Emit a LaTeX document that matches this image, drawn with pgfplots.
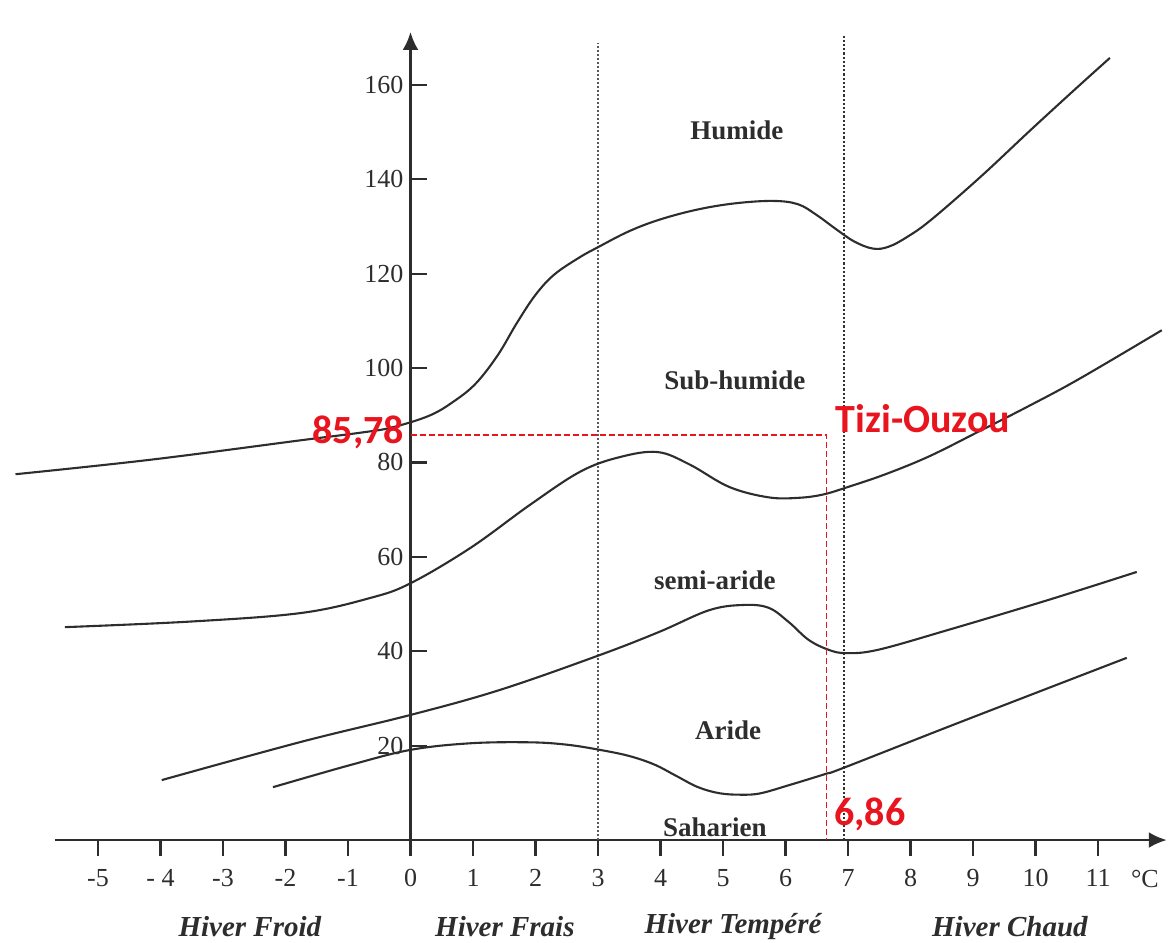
\documentclass[border=0pt]{standalone}
\usepackage{fontspec}
\setmainfont{Liberation Serif}
\newfontfamily\redfont{Carlito}
\usepackage{pgfplots}
\pgfplotsset{compat=1.18}
\usetikzlibrary{arrows.meta}
\definecolor{ink}{RGB}{45,45,45}
\definecolor{redlab}{RGB}{232,20,30}
\begin{document}
\begin{tikzpicture}
\begin{axis}[
  x=31.25pt, y=2.36pt,
  xmin=-5.69, xmax=12.10, ymin=0, ymax=171.2,
  enlargelimits=false,
  axis lines=middle,
  clip=false,
  axis line style={ink, line width=1.3pt},
  every inner x axis line/.append style={-{Latex[length=9pt,width=8pt]}},
  every inner y axis line/.append style={-{Latex[length=9pt,width=8pt]}},
  hide obscured x ticks=false,
  hide obscured y ticks=false,
  xtick={-5,-4,-3,-2,-1,0,1,2,3,4,5,6,7,8,9,10,11},
  xticklabels={-5,- 4,-3,-2,-1,0,1,2,3,4,5,6,7,8,9,10,11},
  ytick={20,40,60,80,100,120,140,160},
  xtick align=outside,
  ytick align=inside,
  major tick length=8pt,
  tick style={ink, line width=1.1pt},
  /pgf/number format/assume math mode=true,
  ticklabel style={font=\fontsize{13}{13}\selectfont, text=ink},
  xticklabel style={anchor=north, yshift=-3pt},
  yticklabel style={anchor=east},
]
% bounding box corners
\coordinate (bbsw) at (axis cs:-6.568,-21.61);
\coordinate (bbne) at (axis cs:12.152,177.97);

% winter-type boundaries
\addplot[gray!70!black, densely dotted, line width=1pt] coordinates {(3,0) (3,168.9)};
\addplot[gray!40!black, densely dotted, line width=1.1pt] coordinates {(6.93,0) (6.93,170.4)};

% Humide / Sub-humide
\addplot[ink, line width=1.05pt, smooth, tension=0.6] coordinates {
(-6.32,77.5) (-4.14,80.6) (-1.75,84.7) (-0.8,86.3) (-0.3,87.4) (0.3,89.9) (0.7,93) (1.05,96.8) (1.4,102.8) (1.7,109.5) (2.0,115.5) (2.3,119.8) (2.7,123.4) (3.0,125.6) (3.5,129) (4,131.5) (4.6,133.6) (5.2,134.9) (5.8,135.4) (6.2,134.7) (6.5,132.4) (6.8,129.5) (7.1,126.8) (7.4,125.3) (7.65,125.7) (7.95,127.8) (8.33,131.4) (9.12,140.5) (9.92,150.4) (10.62,158.9) (11.19,165.7)};
% Sub-humide / semi-aride
\addplot[ink, line width=1.05pt, smooth, tension=0.6] coordinates {
(-5.53,45.1) (-3.5,46.3) (-1.75,48.1) (-0.64,51.3) (0,54.4) (0.96,61.9) (1.91,71) (2.71,78) (3.34,81.1) (3.95,82.2) (4.46,79.6) (5.1,74.8) (5.73,72.6) (6.21,72.5) (6.6,73.2) (7.0,74.8) (7.6,77.5) (8.3,81.3) (9.1,86.6) (9.9,92) (10.7,97.7) (12.02,108)};
% semi-aride / aride
\addplot[ink, line width=1.05pt, smooth, tension=0.6] coordinates {
(-3.98,12.7) (-1.75,20.8) (0,26.5) (1.43,31.8) (3.03,39.2) (3.98,44.1) (4.78,48.7) (5.33,49.8) (5.73,49.2) (6.05,46.2) (6.37,42.4) (6.69,40.3) (6.97,39.6) (7.48,40.3) (8.6,44.5) (10.19,50.8) (11.62,56.8)};
% aride / saharien
\addplot[ink, line width=1.05pt, smooth, tension=0.6] coordinates {
(-2.2,11.2) (-0.96,15.9) (0,19.1) (0.96,20.5) (1.91,20.7) (2.5,20.2) (3.03,19.1) (3.5,17.8) (3.9,16.0) (4.25,13.6) (4.6,11.2) (4.95,9.9) (5.3,9.6) (5.6,9.9) (6.05,11.6) (6.64,14) (6.93,15.3) (8.76,24.8) (11.46,38.6)};

% Tizi-Ouzou position
\addplot[redlab, line width=0.7pt, dash pattern=on 3pt off 1.5pt] coordinates {(0,85.78) (6.66,85.78) (6.66,0)};

% zone labels
\node[font=\fontsize{13.5}{13.5}\selectfont\bfseries, text=ink] at (axis cs:5.22,150.4) {Humide};
\node[font=\fontsize{13.5}{13.5}\selectfont\bfseries, text=ink] at (axis cs:5.19,97.5) {Sub-humide};
\node[font=\fontsize{13.5}{13.5}\selectfont\bfseries, text=ink] at (axis cs:4.87,55.1) {semi-aride};
\node[font=\fontsize{13.5}{13.5}\selectfont\bfseries, text=ink] at (axis cs:5.08,23.3) {Aride};
\node[font=\fontsize{13.5}{13.5}\selectfont\bfseries, text=ink] at (axis cs:4.87,2.75) {Saharien};

% red annotations
\node[font=\redfont\fontsize{20}{20}\selectfont\bfseries, text=redlab, anchor=east, inner sep=0pt] at (axis cs:-0.1,86.4) {85,78};
\node[font=\redfont\fontsize{20}{20}\selectfont\bfseries, text=redlab] at (axis cs:8.2,89.2) {Tizi-Ouzou};
\node[font=\redfont\fontsize{20}{20}\selectfont\bfseries, text=redlab] at (axis cs:7.35,5.5) {6,86};

% unit and winter types
\node[font=\fontsize{13}{13}\selectfont, text=ink] at (axis cs:11.75,-8.3) {°C};
\node[font=\fontsize{14.5}{14.5}\selectfont\bfseries\itshape, text=ink] at (axis cs:-2.57,-18.4) {Hiver Froid};
\node[font=\fontsize{14.5}{14.5}\selectfont\bfseries\itshape, text=ink] at (axis cs:1.51,-18.4) {Hiver Frais};
\node[font=\fontsize{14.5}{14.5}\selectfont\bfseries\itshape, text=ink] at (axis cs:5.16,-18.4) {Hiver Tempéré};
\node[font=\fontsize{14.5}{14.5}\selectfont\bfseries\itshape, text=ink] at (axis cs:9.59,-18.4) {Hiver Chaud};
\end{axis}
\pgfresetboundingbox
\path[use as bounding box] (bbsw) rectangle (bbne);
\end{tikzpicture}
\end{document}
